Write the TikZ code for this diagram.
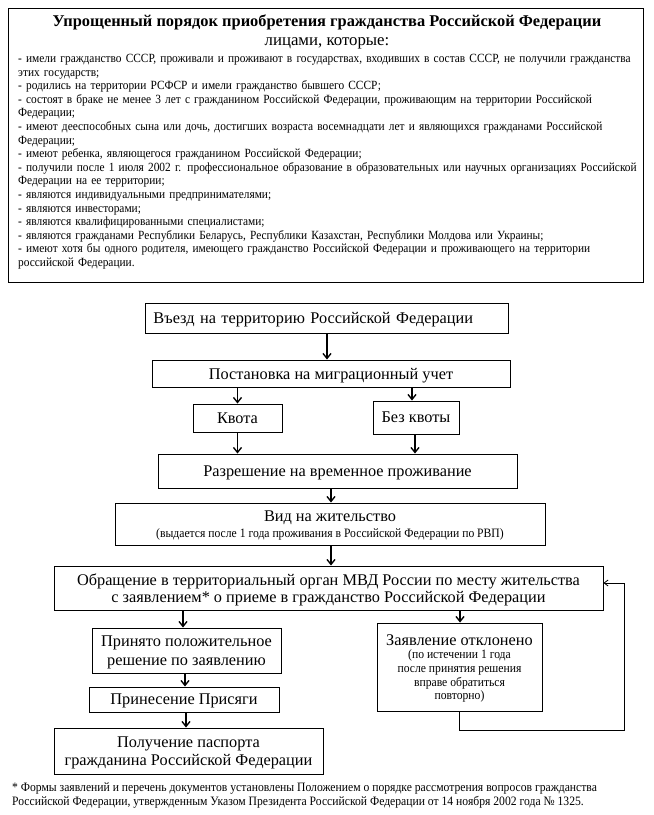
\documentclass[tikz,border=0pt]{standalone}
\usepackage{fontspec}
\setmainfont{Liberation Serif}
\newfontfamily\condfont{Liberation Serif}[FakeStretch=0.91]
\usetikzlibrary{arrows.meta}
\newcommand\JL[1]{\noindent\hbox to 620pt{#1}\par}
\newcommand\LL[1]{\noindent\hbox{#1}\par}
\begin{document}
\begin{tikzpicture}[x=1pt,y=-1pt,
  box/.style={draw, line width=0.9pt, inner sep=0pt, align=center, text depth=0pt, font=\fontsize{16.3}{18.5}\selectfont},
  arr/.style={-{Straight Barb[length=5pt,width=8pt]}, line width=1.4pt},
  fbarr/.style={-{Straight Barb[length=4pt,width=6pt]}, line width=0.8pt},
  smallc/.style={font=\condfont\fontsize{12.8}{13.7}\selectfont}]
\useasboundingbox[fill=white] (0,0) rectangle (654,815);

% top box
\node[draw, line width=1pt, minimum width=635pt, minimum height=274pt, inner sep=0pt] (topbox) at (325.5,145) {};
\node[font=\bfseries\fontsize{16.4}{19}\selectfont, inner sep=0pt] (title) at (327,22) {Упрощенный порядок приобретения гражданства Российской Федерации};
\node[font=\fontsize{16.8}{19}\selectfont, inner sep=0pt] (subtitle) at (327,43) {лицами, которые:};
\node[anchor=north west, inner sep=0pt, text width=620pt, font=\condfont\fontsize{12.5}{13.6}\selectfont] (body) at (18,54) {\parindent=0pt\parskip=0pt%
\JL{- имели гражданство СССР, проживали и проживают в государствах, входивших в состав СССР, не получили гражданства}%
\LL{этих государств;}%
\LL{- родились на территории РСФСР и имели гражданство бывшего СССР;}%
\JL{- состоят в браке не менее 3 лет с гражданином Российской Федерации, проживающим на территории Российской}%
\LL{Федерации;}%
\JL{- имеют дееспособных сына или дочь, достигших возраста восемнадцати лет и являющихся гражданами Российской}%
\LL{Федерации;}%
\LL{- имеют ребенка, являющегося гражданином Российской Федерации;}%
\JL{- получили после 1 июля 2002 г. профессиональное образование в образовательных или научных организациях Российской}%
\LL{Федерации на ее территории;}%
\LL{- являются индивидуальными предпринимателями;}%
\LL{- являются инвесторами;}%
\LL{- являются квалифицированными специалистами;}%
\LL{- являются гражданами Республики Беларусь, Республики Казахстан, Республики Молдова или Украины;}%
\JL{- имеют хотя бы одного родителя, имеющего гражданство Российской Федерации и проживающего на территории}%
\LL{российской Федерации.}};

% flowchart
\node[box, anchor=west, minimum height=30pt, text width=347pt, inner xsep=8pt, align=left] (b1) at (145,318) {Въезд на территорию Российской Федерации};
\node[box, minimum width=358pt, minimum height=27pt] (b2) at (331,373.5) {Постановка на миграционный учет};
\node[box, minimum width=89pt, minimum height=28pt] (kv) at (237.5,418) {Квота};
\node[box, minimum width=86pt, minimum height=33pt] (bkv) at (416,417.5) {Без квоты};
\node[box, minimum width=359pt, minimum height=34pt] (b3) at (337.5,471) {Разрешение на временное проживание};
\node[box, minimum width=430pt, minimum height=42pt] (b4) at (330,524) {Вид на жительство\\[-2pt]{\condfont\fontsize{12.8}{13.7}\selectfont (выдается после 1 года проживания в Российской Федерации по РВП)}};
\node[box, minimum width=549pt, minimum height=44pt] (b5) at (328.5,588) {Обращение в территориальный орган МВД России по месту жительства\\[-2pt]с заявлением* о приеме в гражданство Российской Федерации};
\node[box, minimum width=189pt, minimum height=45pt] (pr) at (186.5,650.5) {Принято положительное\\решение по заявлению};
\node[box, minimum width=165pt, minimum height=88pt, smallc] (za) at (459.5,667) {{\normalfont\fontsize{16.3}{18.5}\selectfont Заявление отклонено}\\[0pt](по истечении 1 года\\после принятия решения\\вправе обратиться\\повторно)};
\node[box, minimum width=190pt, minimum height=25pt] (ps) at (184,699.5) {Принесение Присяги};
\node[box, minimum width=269pt, minimum height=46pt] (pl) at (188.5,751) {Получение паспорта\\гражданина Российской Федерации};

% footnote
\node[anchor=north west, inner sep=0pt, align=left, font=\condfont\fontsize{12.8}{14}\selectfont] (fn) at (12,783) {* Формы заявлений и перечень документов установлены Положением о порядке рассмотрения вопросов гражданства\\Российской Федерации, утвержденным Указом Президента Российской Федерации от 14 ноября 2002 года № 1325.};

% arrows
\draw[arr] (b1.south -| 327,0) -- (b2.north -| 327,0);
\draw[arr] (kv.north |- b2.south) -- (kv.north);
\draw[arr] (b2.south -| 412,0) -- (bkv.north -| 412,0);
\draw[arr] (kv.south) -- (kv.south |- b3.north);
\draw[arr] (bkv.south -| 415,0) -- (b3.north -| 415,0);
\draw[arr] (b3.south -| 331,0) -- (b4.north -| 331,0);
\draw[arr] (b4.south -| 331,0) -- (b5.north -| 331,0);
\draw[arr] (b5.south -| 183,0) -- (pr.north -| 183,0);
\draw[arr] (b5.south -| 460,0) -- (za.north -| 460,0);
\draw[arr] (pr.south -| 185,0) -- (ps.north -| 185,0);
\draw[arr] (ps.south -| 186,0) -- (pl.north -| 186,0);
\coordinate (fbc) at (624,730);
\draw[fbarr] (za.south) |- (fbc) |- ([yshift=5pt]b5.east);
\end{tikzpicture}
\end{document}
